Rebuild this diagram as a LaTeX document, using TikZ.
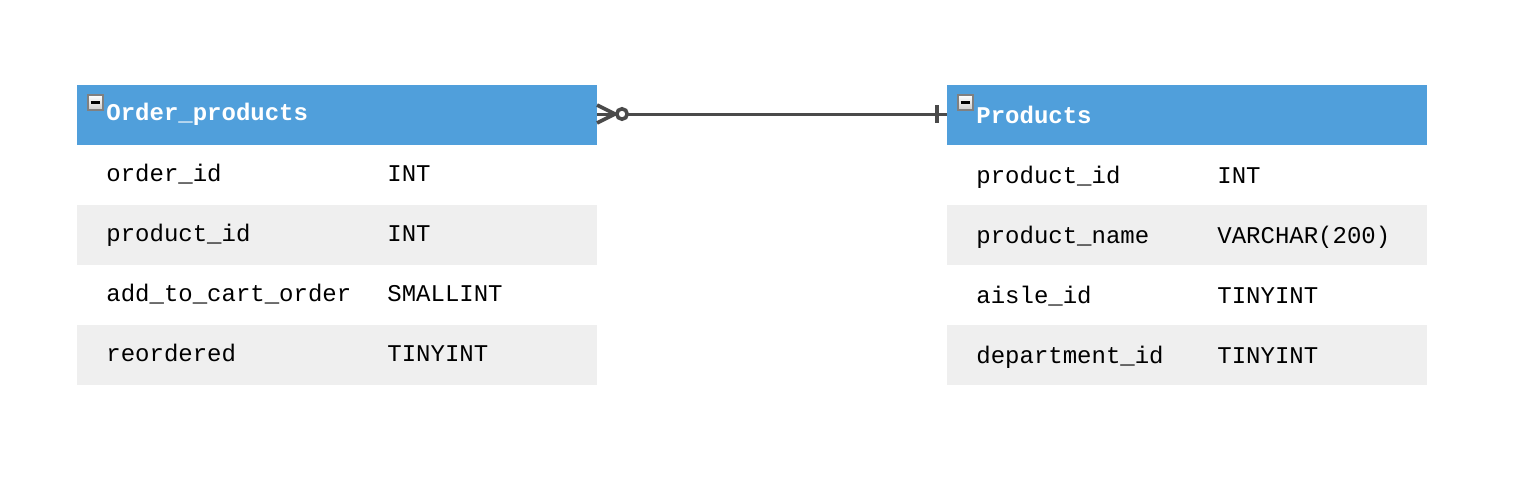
\documentclass[tikz,border=0pt]{standalone}
\usepackage{fontspec}
\setmonofont{Liberation Mono}
\usetikzlibrary{positioning}
\definecolor{headblue}{HTML}{509FDB}
\definecolor{rowgray}{HTML}{EFEFEF}
\definecolor{linkgray}{HTML}{4A4A4A}
\tikzset{
x=0.5pt, y=-0.5pt, % one unit is one pixel of the screenshot
node distance=0pt, % rows sit right under each other
tablehead/.style={rectangle, fill=headblue, minimum height=30pt, inner sep=0pt, outer sep=0pt}, % blue title bar
tablerow/.style={rectangle, minimum height=30pt, inner sep=0pt, outer sep=0pt}, % one field row
shaded/.style={tablerow, fill=rowgray}, % every second row is grey
headtext/.style={anchor=base west, inner sep=0pt, font=\fontsize{12}{14}\selectfont\ttfamily\bfseries, text=white},
fieldtext/.style={anchor=base west, inner sep=0pt, font=\fontsize{12}{14}\selectfont\ttfamily},
minusbox/.style={rectangle, draw=gray, line width=1.1pt, top color=white, bottom color=gray!40, minimum size=7.5pt, inner sep=0pt},
link/.style={draw=linkgray, line width=1.5pt},
}
\begin{document}
\begin{tikzpicture}
\useasboundingbox (0,0) rectangle (1518,482);

% Order_products table
\node[tablehead, minimum width=260pt, anchor=north west] (ophead) at (77,85) {};
\node[tablerow, minimum width=260pt, below=of ophead] (oprow1) {};
\node[shaded, minimum width=260pt, below=of oprow1] (oprow2) {};
\node[tablerow, minimum width=260pt, below=of oprow2] (oprow3) {};
\node[shaded, minimum width=260pt, below=of oprow3] (oprow4) {};

\node[minusbox] (opminus) at (95.5,102.5) {};
\draw[black, line width=1.3pt] ([xshift=-2.4pt]opminus.center) -- ([xshift=2.4pt]opminus.center);
\node[headtext] (optitle) at ([xshift=14.5pt, yshift=-2.5pt]ophead.west) {Order\_products};

\node[fieldtext] (opname1) at ([xshift=14.5pt, yshift=-3pt]oprow1.west) {order\_id};
\node[fieldtext] (optype1) at ([xshift=155pt, yshift=-3pt]oprow1.west) {INT};
\node[fieldtext] (opname2) at ([xshift=14.5pt, yshift=-3pt]oprow2.west) {product\_id};
\node[fieldtext] (optype2) at ([xshift=155pt, yshift=-3pt]oprow2.west) {INT};
\node[fieldtext] (opname3) at ([xshift=14.5pt, yshift=-3pt]oprow3.west) {add\_to\_cart\_order};
\node[fieldtext] (optype3) at ([xshift=155pt, yshift=-3pt]oprow3.west) {SMALLINT};
\node[fieldtext] (opname4) at ([xshift=14.5pt, yshift=-3pt]oprow4.west) {reordered};
\node[fieldtext] (optype4) at ([xshift=155pt, yshift=-3pt]oprow4.west) {TINYINT};

% Products table
\node[tablehead, minimum width=240pt, anchor=north west] (phead) at (947,85) {};
\node[tablerow, minimum width=240pt, below=of phead] (prow1) {};
\node[shaded, minimum width=240pt, below=of prow1] (prow2) {};
\node[tablerow, minimum width=240pt, below=of prow2] (prow3) {};
\node[shaded, minimum width=240pt, below=of prow3] (prow4) {};

\node[minusbox] (pminus) at (965.5,102.5) {};
\draw[black, line width=1.3pt] ([xshift=-2.4pt]pminus.center) -- ([xshift=2.4pt]pminus.center);
\node[headtext] (ptitle) at ([xshift=14.5pt, yshift=-4pt]phead.west) {Products};

\node[fieldtext] (pname1) at ([xshift=14.5pt, yshift=-4pt]prow1.west) {product\_id};
\node[fieldtext] (ptype1) at ([xshift=135pt, yshift=-4pt]prow1.west) {INT};
\node[fieldtext] (pname2) at ([xshift=14.5pt, yshift=-4pt]prow2.west) {product\_name};
\node[fieldtext] (ptype2) at ([xshift=135pt, yshift=-4pt]prow2.west) {VARCHAR(200)};
\node[fieldtext] (pname3) at ([xshift=14.5pt, yshift=-4pt]prow3.west) {aisle\_id};
\node[fieldtext] (ptype3) at ([xshift=135pt, yshift=-4pt]prow3.west) {TINYINT};
\node[fieldtext] (pname4) at ([xshift=14.5pt, yshift=-4pt]prow4.west) {department\_id};
\node[fieldtext] (ptype4) at ([xshift=135pt, yshift=-4pt]prow4.west) {TINYINT};

% relation: many (zero or more) to one
\coordinate (opend) at ([yshift=0.5pt]ophead.east);
\coordinate (pend) at ([yshift=0.5pt]phead.west);
\coordinate (crowtip) at ([xshift=9pt]opend);
\coordinate (ring) at ([xshift=12.5pt]opend);
\coordinate (bar) at ([xshift=-5pt]pend);
\draw[link] (opend) -- (pend);
\draw[link, line width=1.8pt] ([yshift=4.5pt]opend) -- (crowtip) -- ([yshift=-4.5pt]opend);
\draw[link, line width=1.8pt, fill=white] (ring) circle (2.6pt);
\draw[link, line width=1.8pt] ([yshift=4.5pt]bar) -- ([yshift=-4.5pt]bar);
\end{tikzpicture}
\end{document}
